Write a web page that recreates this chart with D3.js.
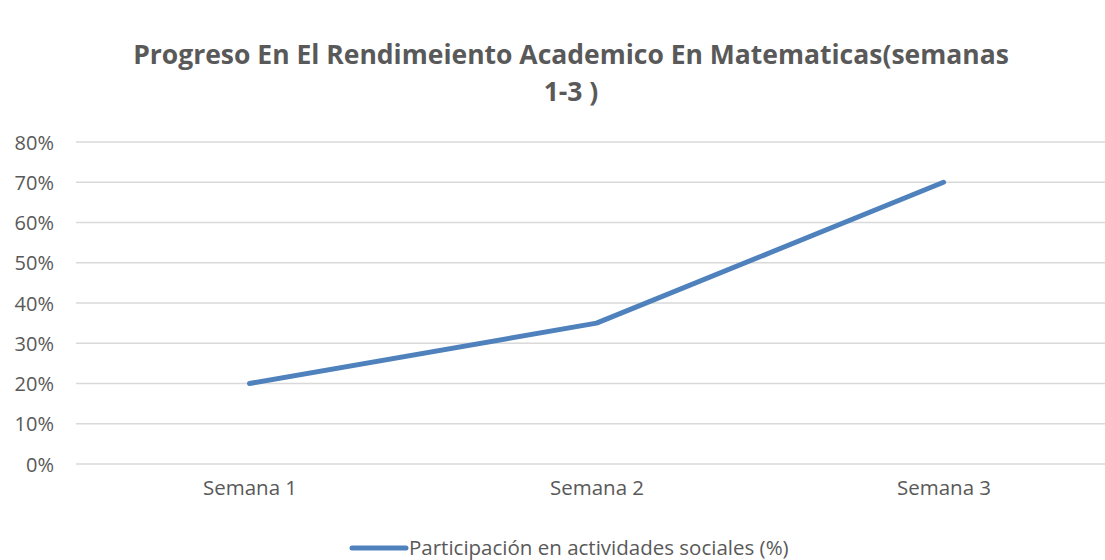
<!DOCTYPE html>
<html>
<head>
<meta charset="utf-8">
<script src="https://cdn.jsdelivr.net/npm/d3@7"></script>
<style>
  body { margin: 0; background: #fff; }
  svg { display: block; font-family: "Open Sans", "Liberation Sans", sans-serif; }
</style>
</head>
<body>
<div id="chart"></div>
<script>
const width = 1105;
const height = 560;

const titleLines = ["Progreso En El Rendimeiento Academico En Matematicas(semanas", "1-3 )"];
const categories = ["Semana 1", "Semana 2", "Semana 3"];
const values = [0.20, 0.35, 0.70];
const yTicks = [0, 0.1, 0.2, 0.3, 0.4, 0.5, 0.6, 0.7, 0.8];
const seriesName = "Participación en actividades sociales (%)";

const textColor = "#595959";
const lineColor = "#4f81bd";

const svg = d3.select("#chart")
  .append("svg")
  .attr("width", width)
  .attr("height", height);

const x = d3.scalePoint()
  .domain(categories)
  .range([76, 1117])
  .padding(0.5);

const y = d3.scaleLinear()
  .domain([0, 0.8])
  .range([464, 142]);

// title
svg.append("g")
  .selectAll("text")
  .data(titleLines)
  .join("text")
  .attr("x", 571)
  .attr("y", (d, i) => 64 + i * 37)
  .attr("text-anchor", "middle")
  .attr("font-size", "26.5px")
  .attr("font-weight", "bold")
  .attr("fill", textColor)
  .text(d => d);

// gridlines
svg.append("g")
  .selectAll("line")
  .data(yTicks)
  .join("line")
  .attr("x1", 76)
  .attr("x2", 1117)
  .attr("y1", d => y(d))
  .attr("y2", d => y(d))
  .attr("stroke", "#d9d9d9")
  .attr("stroke-width", 1.5);

// y axis labels
const yAxis = svg.append("g")
  .attr("transform", "translate(54,0)")
  .call(d3.axisLeft(y).tickValues(yTicks).tickFormat(d3.format(".0%")).tickSize(0).tickPadding(0));
yAxis.select(".domain").remove();
yAxis.selectAll("text")
  .attr("font-size", "20px")
  .attr("font-family", "'Open Sans', 'Liberation Sans', sans-serif")
  .attr("fill", textColor)
  .attr("dy", "0.35em");

// x axis labels
const xAxis = svg.append("g")
  .attr("transform", "translate(0,481)")
  .call(d3.axisBottom(x).tickSize(0).tickPadding(0));
xAxis.select(".domain").remove();
xAxis.selectAll("text")
  .attr("font-size", "20.5px")
  .attr("font-family", "'Open Sans', 'Liberation Sans', sans-serif")
  .attr("fill", textColor)
  .attr("dy", "0.7em");

// line
const line = d3.line()
  .x((d, i) => x(categories[i]))
  .y(d => y(d));

svg.append("path")
  .datum(values)
  .attr("d", line)
  .attr("fill", "none")
  .attr("stroke", lineColor)
  .attr("stroke-width", 5)
  .attr("stroke-linecap", "round")
  .attr("stroke-linejoin", "round");

// legend
const legend = svg.append("g").attr("transform", "translate(352,548)");
legend.append("line")
  .attr("x1", 0)
  .attr("x2", 54)
  .attr("stroke", lineColor)
  .attr("stroke-width", 5)
  .attr("stroke-linecap", "round");
legend.append("text")
  .attr("x", 57)
  .attr("dy", "0.35em")
  .attr("font-size", "20.5px")
  .attr("fill", textColor)
  .text(seriesName);
</script>
</body>
</html>
